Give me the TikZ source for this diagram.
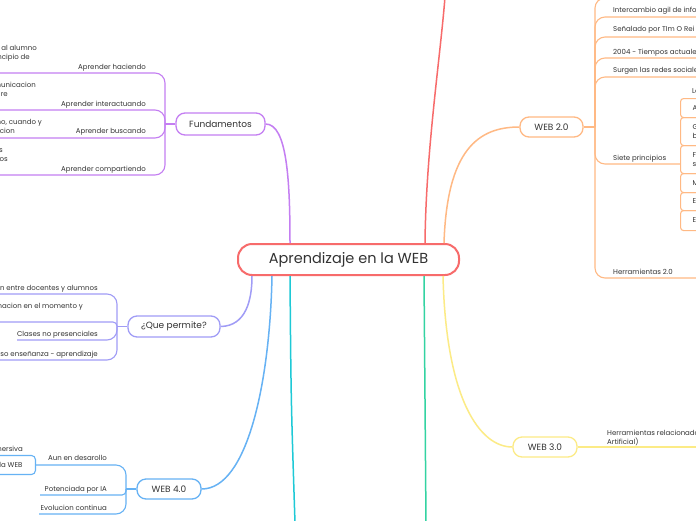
\documentclass[tikz,border=0pt]{standalone}
\usepackage{fontspec}
\setmainfont{Poppins}
\usetikzlibrary{calc}
\definecolor{ink}{HTML}{333333}
\definecolor{cred}{HTML}{F76B6B}
\definecolor{cpur}{HTML}{C47EF2}
\definecolor{clav}{HTML}{A09CF6}
\definecolor{cblue}{HTML}{66B2F4}
\definecolor{ccyan}{HTML}{1EC9D6}
\definecolor{cgreen}{HTML}{33D3A2}
\definecolor{cyel}{HTML}{FCEB86}
\definecolor{cor}{HTML}{FFB984}
\tikzset{
  topic/.style={draw, fill=white, line width=1.3pt, rounded corners=9pt,
    minimum height=21pt, inner sep=0pt, text=ink,
    font=\fontsize{9}{11}\selectfont},
  lbl/.style={inner sep=0pt, text=ink, font=\fontsize{7}{8.5}\selectfont},
  br/.style={line width=1.1pt, rounded corners=10pt},
  brs/.style={line width=1.1pt, rounded corners=4pt},
  mainline/.style={line width=1.5pt},
  pbox/.style={draw=cor, line width=1.1pt, rounded corners=3pt, anchor=north west,
    minimum width=40pt, inner xsep=0pt, inner ysep=0pt, text=ink,
    font=\fontsize{7}{9}\selectfont, align=left, text width=40pt},
}
\begin{document}
\begin{tikzpicture}[x=1pt,y=-1pt]
\useasboundingbox (0,0) rectangle (696,520);
\fill[white] (0,0) rectangle (696,520);
\clip (0,0) rectangle (696,520);

% ---------- main nodes ----------
\node[topic, draw=cred, line width=2pt, rounded corners=14pt, minimum width=221pt,
  minimum height=31pt, font=\fontsize{14.5}{17}\selectfont] (c) at (348.5,259.5) {Aprendizaje en la WEB};
\node[topic, draw=cpur, minimum width=89pt, minimum height=22pt] (fund) at (220.5,124) {Fundamentos};
\node[topic, draw=clav, minimum width=92pt] (qp) at (174,326.5) {¿Que permite?};
\node[topic, draw=cblue, minimum width=64pt, minimum height=20pt] (w4) at (169,489) {WEB 4.0};
\node[topic, draw=cyel, minimum width=64pt, minimum height=20pt] (w3) at (545,447) {WEB 3.0};
\node[topic, draw=cor, minimum width=63pt, minimum height=20pt] (w2) at (551.5,127) {WEB 2.0};

% ---------- free ends of main connectors ----------
\coordinate (r1) at (425,0);  \coordinate (r0) at (445,-3);
\coordinate (o1) at (444,0);
\coordinate (p1) at (290,0);
\coordinate (l1) at (252,0);
\coordinate (b1) at (272,0);
\coordinate (cy1) at (290,0); \coordinate (cy0) at (295,523);
\coordinate (g1) at (424,0);  \coordinate (g0) at (426,523);
\coordinate (y1) at (443,0);

\draw[mainline, cred] (c.north -| r1) .. controls (426,150) and (440,60) .. (r0);
\draw[mainline, cor] (c.north -| o1) .. controls (447,150) and (478,127) .. (w2.west);
\draw[mainline, cpur] (fund.east) .. controls (287,124) and (290,180) .. (c.north -| p1);
\draw[mainline, clav] (qp.east) .. controls (246,326) and (252,300) .. (c.south -| l1);
\draw[mainline, cblue] (w4.east) .. controls (248,489) and (270,380) .. (c.south -| b1);
\draw[mainline, ccyan] (c.south -| cy1) .. controls (291,400) .. (cy0);
\draw[mainline, cgreen] (c.south -| g1) -- (g0);
\draw[mainline, cyel] (c.south -| y1) .. controls (446,400) and (480,447) .. (w3.west);

% ---------- Fundamentos ----------
\coordinate (fb) at (165,124);
\coordinate (f1) at (-5,73);
\coordinate (f2) at (-5,110);
\coordinate (f3) at (-5,138);
\coordinate (f4) at (-5,175);
\draw[br, cpur] (fund.west) -- (fb);
\draw[br, cpur] (fb) |- (f1);
\draw[br, cpur] (fb) |- (f2);
\draw[br, cpur] (fb) |- (f3);
\draw[br, cpur] (fb) |- (f4);
\node[lbl, anchor=base east] (f1t) at (146,69) {Aprender haciendo};
\node[lbl, anchor=base east] (f2t) at (146,106) {Aprender interactuando};
\node[lbl, anchor=base east] (f3t) at (146,133) {Aprender buscando};
\node[lbl, anchor=base east] (f4t) at (146,171) {Aprender compartiendo};
\node[lbl, anchor=base east] (g1a) at (37,50) {n al alumno};
\node[lbl, anchor=base east] (g1b) at (30,59.5) {ncipio de};
\node[lbl, anchor=base east] (g2a) at (36,87) {municacion};
\node[lbl, anchor=base east] (g2b) at (8,96.5) {re};
\node[lbl, anchor=base east] (g3a) at (42,124) {no, cuando y};
\node[lbl, anchor=base east] (g3b) at (15,133.5) {acion};
\node[lbl, anchor=base east] (g4a) at (3,152) {s};
\node[lbl, anchor=base east] (g4b) at (8,161.5) {os};

% ---------- Que permite ----------
\coordinate (qb) at (117,326.5);
\coordinate (q1) at (-5,294);
\coordinate (q2) at (-5,322);
\coordinate (q3) at (17,340);
\coordinate (q4) at (-5,360);
\draw[br, clav] (qp.west) -- (qb);
\draw[br, clav] (qb) |- (q1);
\draw[brs, clav] (qb) |- (q2);
\draw[br, clav] (qb) |- (q3);
\draw[br, clav] (qb) |- (q4);
\node[lbl, anchor=base east] (q1t) at (98,290) {ion entre docentes y alumnos};
\node[lbl, anchor=base east] (q2t) at (83,308) {rmacion en el momento y};
\node[lbl, anchor=base east] (q3t) at (98,336.5) {Clases no presenciales};
\node[lbl, anchor=base east] (q4t) at (98,356) {eso enseñanza - aprendizaje};

% ---------- WEB 4.0 ----------
\coordinate (wb) at (126,489);
\node[draw=cblue, line width=1.1pt, rounded corners=4pt, anchor=east, minimum height=19pt,
  inner xsep=13pt, inner ysep=0pt, text=ink, font=\fontsize{7}{8.5}\selectfont] (gb) at (36,465) {\raisebox{-2pt}{la WEB}};
\coordinate (v2) at (40,495);
\coordinate (v3) at (39,514);
\draw[br, cblue] (w4.west) -- (wb);
\draw[br, cblue] (wb) |- (gb.east);
\draw[brs, cblue] (wb) |- (v2);
\draw[br, cblue] (wb) |- (v3);
\node[lbl, anchor=base east] (v1t) at (107,460) {Aun en desarollo};
\node[lbl, anchor=base east] (v2t) at (107,491) {Potenciada por IA};
\node[lbl, anchor=base east] (v3t) at (107,510) {Evolucion continua};
\node[lbl, anchor=base east] (gmt) at (23,451) {mersiva};

% ---------- WEB 3.0 ----------
\coordinate (w3r) at (700,447);
\draw[br, cyel] (w3.east) -- (w3r);
\node[lbl, anchor=base west] (h3a) at (607,435) {Herramientas relacionada};
\node[lbl, anchor=base west] (h3b) at (607,444) {Artificial)};

% ---------- WEB 2.0 ----------
\coordinate (ob) at (595,127);
\coordinate (o0) at (700,-2);
\coordinate (oa) at (700,17);
\coordinate (obb) at (700,37);
\coordinate (oc) at (700,58);
\coordinate (od) at (700,77);
\coordinate (pg) at (680,164);
\coordinate (oh) at (700,278);
\draw[br, cor] (w2.east) -- (ob);
\draw[br, cor] (ob) |- (o0);
\draw[br, cor] (ob) |- (oa);
\draw[br, cor] (ob) |- (obb);
\draw[br, cor] (ob) |- (oc);
\draw[br, cor] (ob) |- (od);
\draw[br, cor] (ob) |- (pg);
\draw[br, cor] (ob) |- (oh);
\node[lbl, anchor=base west] (oat) at (613,12) {Intercambio agil de info};
\node[lbl, anchor=base west] (obt) at (613,31) {Señalado por TIm O Rei};
\node[lbl, anchor=base west] (oct) at (613,54) {2004 - Tiempos actuales};
\node[lbl, anchor=base west] (odt) at (613,72.5) {Surgen las redes sociale};
\node[lbl, anchor=base west] (spt) at (613,160) {Siete principios};
\node[lbl, anchor=base west] (oht) at (613,274) {Herramientas 2.0};
\node[lbl, anchor=base west] (let) at (692,93) {Le};

% principles boxes
\node[pbox, minimum height=19pt] (pa) at (680,98) {\hspace*{12pt}A};
\node[pbox, minimum height=28pt] (pb) at (680,117) {\hspace*{12pt}G\\\hspace*{12pt}b};
\node[pbox, minimum height=28pt] (pc) at (680,145) {\hspace*{12pt}Fi\\\hspace*{12pt}se};
\node[pbox, minimum height=19pt] (pd) at (680,173) {\hspace*{12pt}M};
\node[pbox, minimum height=18pt] (pe) at (680,192) {\hspace*{12pt}E};
\node[pbox, minimum height=20pt] (pf) at (680,210) {\hspace*{12pt}E};
\end{tikzpicture}
\end{document}
